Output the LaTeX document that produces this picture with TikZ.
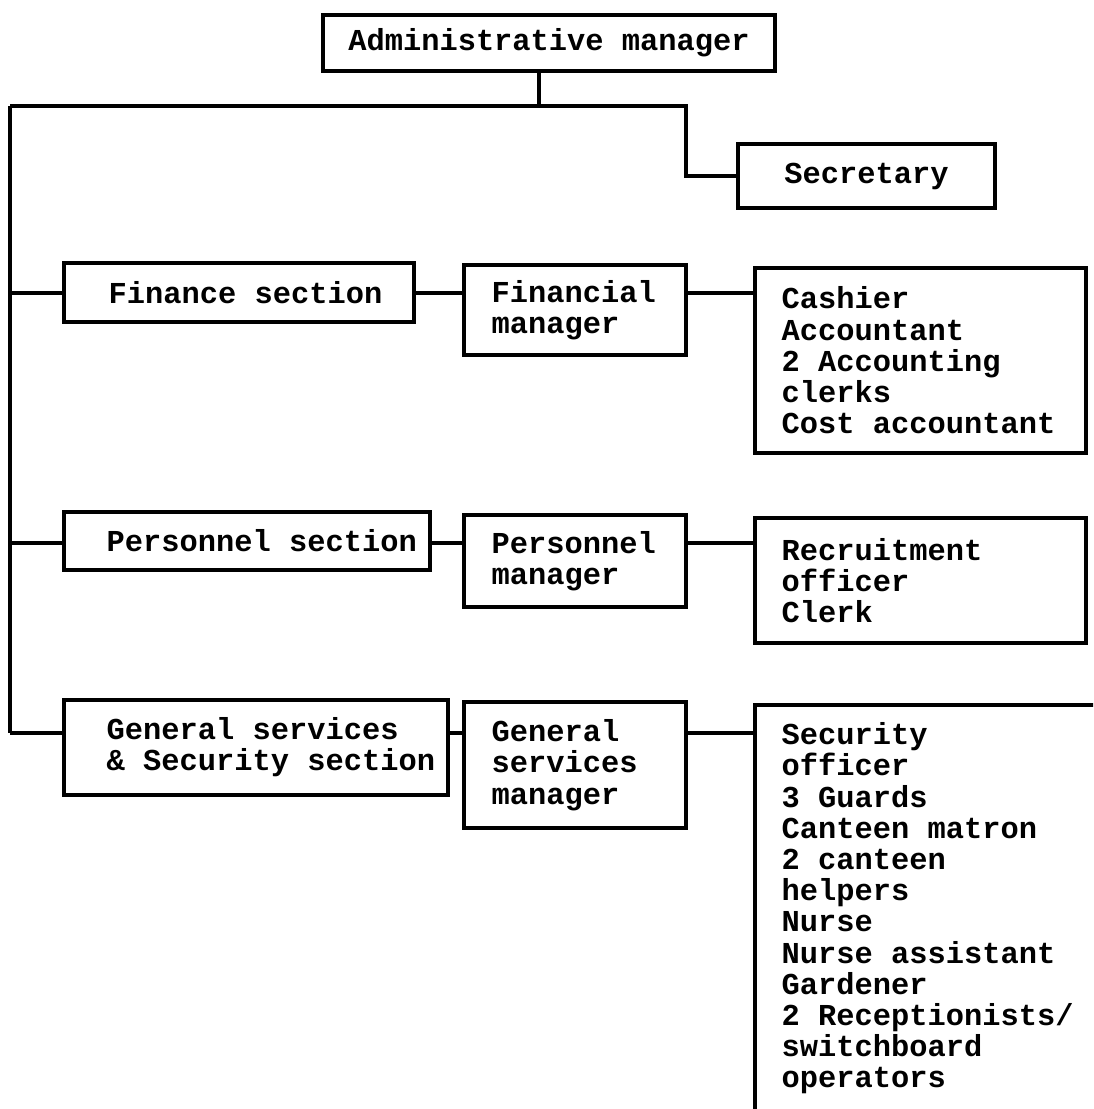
\documentclass[tikz,border=0pt]{standalone}
\usepackage{fontspec}
\newfontfamily\chartfont{Liberation Mono}
\usetikzlibrary{positioning}

\newcommand\boxfont{\chartfont\bfseries\fontsize{15.2}{15.6}\selectfont\lineskiplimit-20pt\relax}

\tikzset{
  chartbox/.style 2 args={draw, line width=1.7pt, minimum width=#1, minimum height=#2, inner sep=0pt},
  boxtext/.style={inner sep=0pt, align=left, font=\boxfont},
  link/.style={line width=1.7pt},
}

\begin{document}
\begin{tikzpicture}[x=0.5pt, y=-0.5pt]
        \path[use as bounding box, clip] (0,0) rectangle (1093,1109);

        % Top
        \node[chartbox={226pt}{28pt}, boxtext] (admin) at (549,43) {Administrative manager};
        \node[chartbox={128.5pt}{32pt}, boxtext] (sec) at (866.5,176) {Secretary};

        % Finance
        \node[chartbox={175pt}{29.5pt}] (fin) at (239,292.5) {};
        \node[boxtext, right=23pt of fin.west] {Finance section};
        \node[chartbox={111pt}{45pt}] (finmgr) at (575,310) {};
        \node[boxtext, right=14.5pt of finmgr.west] {Financial\\manager};
        \node[chartbox={165.5pt}{92.5pt}] (finstaff) at (920.5,360.5) {};
        \node[boxtext, right=14pt of finstaff.west] {Cashier\\Accountant\\2 Accounting\\clerks\\Cost accountant};

        % Personnel
        \node[chartbox={183pt}{29pt}] (per) at (247,541) {};
        \node[boxtext, right=22pt of per.west] {Personnel section};
        \node[chartbox={111pt}{46pt}] (permgr) at (575,561) {};
        \node[boxtext, right=14.5pt of permgr.west] {Personnel\\manager};
        \node[chartbox={165.5pt}{62.5pt}] (perstaff) at (920.5,580.5) {};
        \node[boxtext, right=14pt of perstaff.west] {Recruitment\\officer\\Clerk};

        % General services
        \node[chartbox={192pt}{47.5pt}] (gs) at (256,747.5) {};
        \node[boxtext, right=22pt of gs.west] {General services\\\& Security section};
        \node[chartbox={111pt}{63pt}] (gsmgr) at (575,765) {};
        \node[boxtext, right=14.5pt of gsmgr.west] {General\\services\\manager};
        \node[chartbox={177.5pt}{203.5pt}] (gsstaff) at (932.5,908.5) {};
        \node[boxtext, right=14pt of gsstaff.west] {Security\\officer\\3 Guards\\Canteen matron\\2 canteen\\helpers\\Nurse\\Nurse assistant\\Gardener\\2 Receptionists/\\switchboard\\operators};

        % Lines
        \coordinate (hub) at (539,106);
        \coordinate (spine) at (10,106);
        \coordinate (bend) at (686,106);
        \coordinate (finrow) at (10,293);
        \coordinate (perrow) at (10,543);
        \coordinate (gsrow) at (10,733);

        \draw[link] (hub |- admin.south) -- (hub);
        \draw[link] (spine) -- (bend) -- (bend |- sec.west) -- (sec.west);
        \draw[link] (spine) -- (gsrow);
        \foreach \secn/\mgrn/\stfn/\rown in {fin/finmgr/finstaff/finrow, per/permgr/perstaff/perrow, gs/gsmgr/gsstaff/gsrow} {
            \draw[link] (\rown) -- (\rown -| \secn.west);
            \draw[link] (\rown -| \secn.east) -- (\rown -| \mgrn.west);
            \draw[link] (\rown -| \mgrn.east) -- (\rown -| \stfn.west);
        }
    \end{tikzpicture}
\end{document}
